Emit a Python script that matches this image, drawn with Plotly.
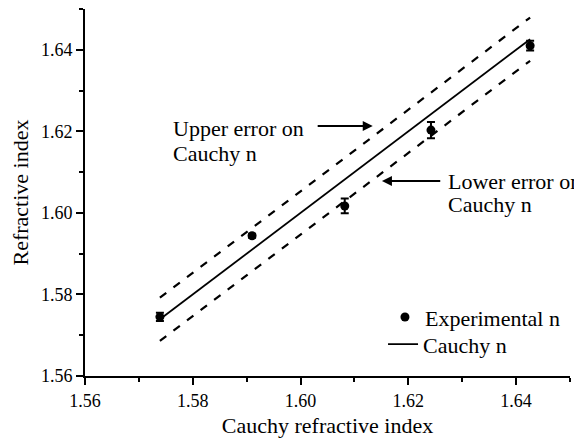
import plotly.graph_objects as go

# Data
cauchy_n = [1.5739, 1.5910, 1.6082, 1.6242, 1.6426]
experimental_n = [1.5745, 1.5944, 1.6017, 1.6203, 1.6410]
experimental_err = [0.0010, 0.0005, 0.0018, 0.0020, 0.0012]
cauchy_err = 0.0053
upper_n = [v + cauchy_err for v in cauchy_n]
lower_n = [v - cauchy_err for v in cauchy_n]

FONT = "Liberation Serif, Times New Roman, serif"

fig = go.Figure()
fig.add_trace(go.Scatter(
    x=cauchy_n, y=upper_n, mode="lines", showlegend=False,
    line=dict(color="black", width=2.2, dash="8px,9px"), hoverinfo="skip"))
fig.add_trace(go.Scatter(
    x=cauchy_n, y=lower_n, mode="lines", showlegend=False,
    line=dict(color="black", width=2.2, dash="8px,9px"), hoverinfo="skip"))
fig.add_trace(go.Scatter(
    x=cauchy_n, y=experimental_n, mode="markers", name="Experimental n",
    marker=dict(color="black", size=9), legend="legend",
    error_y=dict(type="data", array=experimental_err, color="black",
                 thickness=2, width=4)))
fig.add_trace(go.Scatter(
    x=cauchy_n, y=cauchy_n, mode="lines", name="Cauchy n", legend="legend2",
    line=dict(color="black", width=1.8)))

axis_common = dict(
    range=[1.56, 1.65], showgrid=False, zeroline=False, automargin=False,
    showline=True, linecolor="black", linewidth=2,
    ticks="outside", ticklen=7, tickwidth=2, tickcolor="black",
    dtick=0.02, tick0=1.56, tickformat=".2f",
    tickfont=dict(family=FONT, size=18, color="black"),
    minor=dict(ticks="outside", ticklen=4, tickwidth=2, tickcolor="black", dtick=0.01),
)

legend_common = dict(xanchor="left", yanchor="top",
                     font=dict(family=FONT, size=22, color="black"),
                     bgcolor="rgba(0,0,0,0)", itemsizing="trace")

# page body adds an 8px margin, so the figure is sized to fill the rest of the window
fig.update_layout(
    template="none",
    width=574, height=433,
    margin=dict(l=77, r=12, t=1, b=65),
    plot_bgcolor="white", paper_bgcolor="white",
    font=dict(family=FONT, size=22, color="black"),
    xaxis=dict(axis_common, title=dict(text="Cauchy refractive index",
               font=dict(family=FONT, size=22), standoff=8)),
    yaxis=dict(axis_common, title=dict(text="Refractive index",
               font=dict(family=FONT, size=22), standoff=10)),
    legend=dict(legend_common, x=0.6185, y=0.2175),
    legend2=dict(legend_common, x=0.6145, y=0.1435),
)

text_style = dict(showarrow=False, xanchor="left", yanchor="middle",
                  font=dict(family=FONT, size=22, color="black"),
                  xref="x", yref="y")
fig.add_annotation(text="Upper error on", x=1.5760, y=1.6207, **text_style)
fig.add_annotation(text="Cauchy n", x=1.5760, y=1.6145, **text_style)
fig.add_annotation(text="Lower error on", x=1.6270, y=1.6076, **text_style)
fig.add_annotation(text="Cauchy n", x=1.6270, y=1.6020, **text_style)

arrow_style = dict(text="", showarrow=True, arrowhead=2, arrowsize=1,
                   arrowwidth=2, arrowcolor="black", xref="x", yref="y",
                   axref="x", ayref="y")
fig.add_annotation(x=1.6134, y=1.6213, ax=1.6029, ay=1.6213, **arrow_style)
fig.add_annotation(x=1.6151, y=1.6078, ax=1.6262, ay=1.6078, **arrow_style)

fig.write_html("out.html")
